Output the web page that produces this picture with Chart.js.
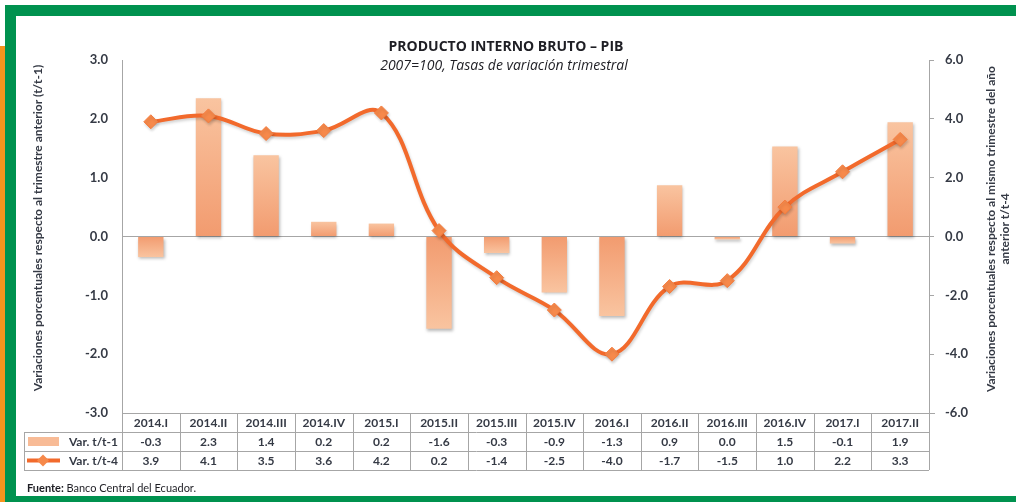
<!DOCTYPE html>
<html>
<head>
<meta charset="utf-8">
<script src="https://cdn.jsdelivr.net/npm/chart.js@4"></script>
<style>
body { margin: 0; background: #fff; width: 1016px; height: 502px; overflow: hidden; position: relative; }
.frame { position: absolute; }
#pib { position: absolute; left: 0; top: 0; }
</style>
</head>
<body>
<div class="frame" style="left:0;top:46px;width:5px;height:456px;background:#f7941d"></div>
<div class="frame" style="left:5px;top:5px;width:1011px;height:11px;background:#00924f"></div>
<div class="frame" style="left:5px;top:5px;width:11px;height:497px;background:#00924f"></div>
<div class="frame" style="left:5px;top:496px;width:1011px;height:6px;background:#00924f"></div>
<canvas id="pib" width="1016" height="502"></canvas>
<script>
const quarters = ['2014.I', '2014.II', '2014.III', '2014.IV', '2015.I', '2015.II', '2015.III', '2015.IV',
    '2016.I', '2016.II', '2016.III', '2016.IV', '2017.I', '2017.II'];
// bars (left axis)
const varT1 = [-0.35, 2.35, 1.38, 0.25, 0.22, -1.57, -0.28, -0.95, -1.35, 0.87, -0.05, 1.53, -0.12, 1.94];
// line (right axis)
const varT4 = [3.9, 4.1, 3.5, 3.6, 4.2, 0.2, -1.4, -2.5, -4.0, -1.7, -1.5, 1.0, 2.2, 3.3];
// values as printed in the table under the chart
const tableT1 = ['-0.3', '2.3', '1.4', '0.2', '0.2', '-1.6', '-0.3', '-0.9', '-1.3', '0.9', '0.0', '1.5', '-0.1', '1.9'];
const tableT4 = ['3.9', '4.1', '3.5', '3.6', '4.2', '0.2', '-1.4', '-2.5', '-4.0', '-1.7', '-1.5', '1.0', '2.2', '3.3'];
const leftRange = [-3, 3, 1];
const rightRange = [-6, 6, 2];

const FONT = 'Lato, "Open Sans", sans-serif';
const TITLE_FONT = '"Open Sans", Lato, sans-serif';
const INK = '#353a45';
const GRID = '#a6a6a6';
Chart.defaults.font.family = FONT;

function barFill(c) {
    const chart = c.chart;
    if (!chart.chartArea) return '#f6ae85';
    const y = chart.scales.y;
    const z = y.getPixelForValue(0);
    const e = y.getPixelForValue(c.raw);
    if (Math.abs(e - z) < 2) return '#f4a47b';
    const g = chart.ctx.createLinearGradient(0, z, 0, e);
    g.addColorStop(0, '#f29b6f');
    g.addColorStop(1, '#f9c4a0');
    return g;
}

const shadowPlugin = {
    id: 'shadow',
    beforeDatasetDraw(chart, args) {
        const ctx = chart.ctx;
        ctx.save();
        ctx.shadowColor = args.index === 0 ? 'rgba(0,0,0,0.28)' : 'rgba(0,0,0,0.18)';
        ctx.shadowBlur = 3;
        ctx.shadowOffsetX = 1;
        ctx.shadowOffsetY = 2;
    },
    afterDatasetDraw(chart) {
        chart.ctx.restore();
    }
};

const textPlugin = {
    id: 'texts',
    afterDraw(chart) {
        const ctx = chart.ctx;
        const a = chart.chartArea;
        ctx.save();
        ctx.fillStyle = '#1e1e24';
        ctx.textAlign = 'center';
        ctx.textBaseline = 'middle';
        ctx.font = 'bold 14px ' + TITLE_FONT;
        ctx.fillText('PRODUCTO INTERNO BRUTO \u2013 PIB', 506, 47);
        ctx.font = 'italic 14px ' + TITLE_FONT;
        ctx.fillText('2007=100, Tasas de variaci\u00f3n trimestral', 504, 66);

        // axis titles
        ctx.fillStyle = INK;
        ctx.font = 'bold 12px ' + FONT;
        ctx.save();
        ctx.translate(38, 228);
        ctx.rotate(-Math.PI / 2);
        ctx.fillText('Variaciones porcentuales respecto al trimestre anterior (t/t-1)', 0, 0);
        ctx.restore();
        ctx.save();
        ctx.translate(991, 229);
        ctx.rotate(-Math.PI / 2);
        ctx.fillText('Variaciones porcentuales respecto al mismo trimestre del a\u00f1o', 0, 0);
        ctx.fillText('anterior t/t-4', 0, 14);
        ctx.restore();

        // data table
        const n = quarters.length;
        const w = (a.right - a.left) / n;
        const top = a.bottom;
        const rh = 19;
        const left = 24;
        ctx.strokeStyle = GRID;
        ctx.lineWidth = 1;
        ctx.beginPath();
        ctx.moveTo(a.left, top + 0.5); ctx.lineTo(a.right + 6, top + 0.5);
        for (let r = 1; r <= 3; r++) {
            ctx.moveTo(left, top + r * rh + 0.5); ctx.lineTo(a.right, top + r * rh + 0.5);
        }
        ctx.moveTo(left + 0.5, top + rh); ctx.lineTo(left + 0.5, top + 3 * rh);
        for (let i = 0; i <= n; i++) {
            const x = Math.round(a.left + i * w) + 0.5;
            ctx.moveTo(x, top); ctx.lineTo(x, top + 3 * rh);
        }
        ctx.stroke();

        ctx.fillStyle = INK;
        ctx.font = 'bold 12px ' + FONT;
        ctx.textAlign = 'center';
        quarters.forEach((q, i) => {
            const cx = a.left + (i + 0.5) * w;
            ctx.fillText(q, cx, top + rh / 2 + 1);
            ctx.fillText(tableT1[i], cx, top + rh * 1.5 + 1);
            ctx.fillText(tableT4[i], cx, top + rh * 2.5 + 1);
        });

        // legend keys
        ctx.textAlign = 'right';
        ctx.fillText('Var. t/t-1', a.left - 4, top + rh * 1.5 + 1);
        ctx.fillText('Var. t/t-4', a.left - 4, top + rh * 2.5 + 1);
        ctx.fillStyle = '#f8bb96';
        ctx.fillRect(28, top + rh + 5, 31, 9);
        const ly = top + rh * 2.5;
        ctx.strokeStyle = '#f26a2c';
        ctx.lineWidth = 4;
        ctx.beginPath(); ctx.moveTo(27, ly); ctx.lineTo(60, ly); ctx.stroke();
        ctx.fillStyle = '#f6894b';
        ctx.beginPath();
        ctx.moveTo(43, ly - 6); ctx.lineTo(49, ly); ctx.lineTo(43, ly + 6); ctx.lineTo(37, ly);
        ctx.closePath(); ctx.fill();

        // source
        ctx.textAlign = 'left';
        ctx.fillStyle = '#1e1e24';
        ctx.font = 'bold 11px ' + FONT;
        ctx.fillText('Fuente:', 27, 488);
        const fw = ctx.measureText('Fuente: ').width;
        ctx.font = '11px ' + FONT;
        ctx.fillText('Banco Central del Ecuador.', 27 + fw, 488);
        ctx.restore();
    }
};

const ctx = document.querySelector('#pib');

const graph = new Chart(ctx, {
    data: {
        labels: quarters,
        datasets: [{
            type: 'bar',
            label: 'Var. t/t-1',
            data: varT1,
            yAxisID: 'y',
            backgroundColor: barFill,
            borderWidth: 0,
            categoryPercentage: 1,
            barPercentage: 0.44,
            order: 1
        }, {
            type: 'line',
            label: 'Var. t/t-4',
            data: varT4,
            yAxisID: 'y1',
            borderColor: '#f26a2c',
            borderWidth: 4,
            tension: 0.38,
            pointStyle: 'rectRot',
            pointRadius: 7,
            pointBackgroundColor: '#f6894b',
            pointBorderColor: '#f47d3f',
            pointBorderWidth: 1,
            order: 0
        }]
    },
    options: {
        responsive: false,
        animation: false,
        devicePixelRatio: 1,
        layout: { padding: { top: 60, bottom: 89, left: 0, right: 0 } },
        plugins: {
            legend: { display: false },
            tooltip: { enabled: false }
        },
        scales: {
            x: { display: false },
            y: {
                position: 'left',
                min: leftRange[0],
                max: leftRange[1],
                afterFit: s => { s.width = 122; },
                ticks: {
                    stepSize: leftRange[2],
                    padding: 14,
                    color: INK,
                    font: { size: 13, weight: 'bold' },
                    callback: v => v.toFixed(1)
                },
                grid: {
                    drawTicks: false,
                    color: c => (c.tick && c.tick.value === 0 ? GRID : 'transparent')
                },
                border: { display: true, color: GRID }
            },
            y1: {
                position: 'right',
                min: rightRange[0],
                max: rightRange[1],
                afterFit: s => { s.width = 87; },
                ticks: {
                    stepSize: rightRange[2],
                    padding: 11,
                    color: INK,
                    font: { size: 13, weight: 'bold' },
                    callback: v => v.toFixed(1)
                },
                grid: { drawOnChartArea: false, color: GRID, tickLength: 5 },
                border: { display: true, color: GRID }
            }
        }
    },
    plugins: [shadowPlugin, textPlugin]
});
</script>
</body>
</html>
